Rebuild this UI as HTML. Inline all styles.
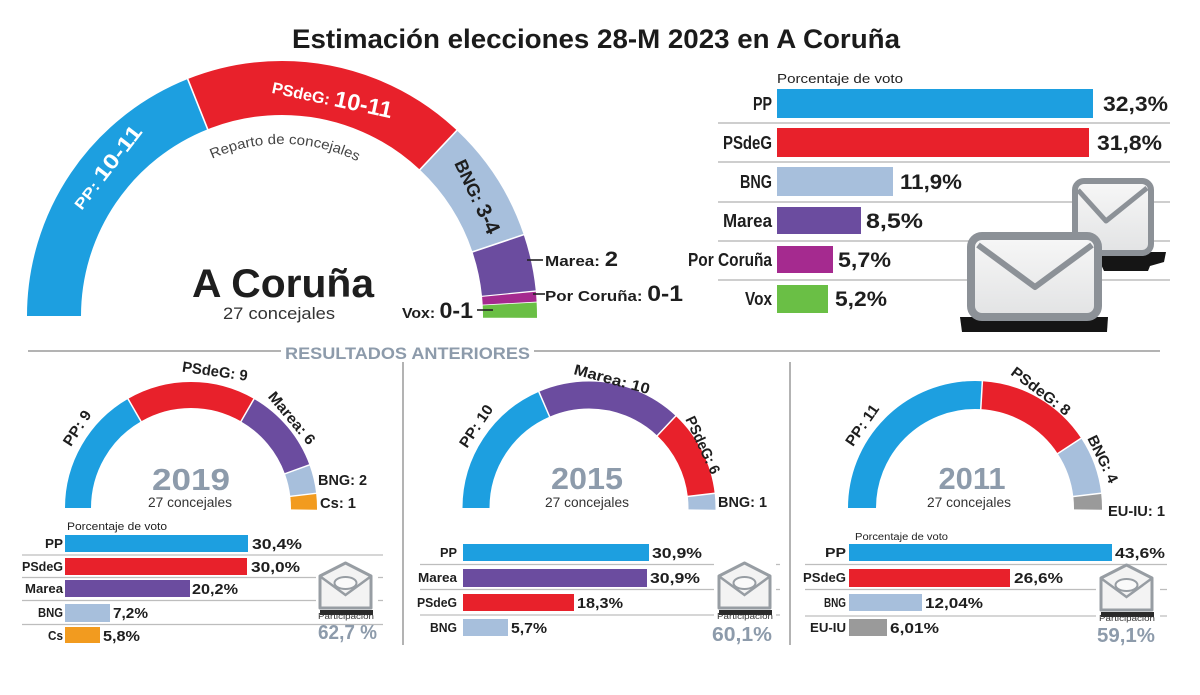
<!DOCTYPE html>
<html><head><meta charset="utf-8">
<style>
html,body{margin:0;padding:0;background:#fff;}
svg{display:block;}
text{font-family:"Liberation Sans",Arial,sans-serif;}
</style></head><body>
<svg width="1200" height="695" viewBox="0 0 1200 695" xmlns="http://www.w3.org/2000/svg">
<defs>
<linearGradient id="env" x1="0" y1="0" x2="0" y2="1">
<stop offset="0" stop-color="#f7f7f7"/><stop offset="1" stop-color="#e2e3e4"/>
</linearGradient>
<path id="rep" d="M150.2,205.4 A172,172 0 0,1 413.8,205.4" fill="none"/>
<g id="penv">
<rect x="2" y="48" width="53" height="5" fill="#2a2a2a"/>
<path d="M2,14 L27.5,1 L53,14 L53,46 L2,46 Z" fill="#f3f3f3" stroke="#979da3" stroke-width="3" stroke-linejoin="round"/>
<path d="M3,15 L27.5,33 L52,15" fill="none" stroke="#979da3" stroke-width="2.5"/>
<ellipse cx="27.5" cy="21" rx="11" ry="6" fill="#fafafa" stroke="#979da3" stroke-width="2"/>
<text x="28" y="57" text-anchor="middle" font-size="8" fill="#333" textLength="56" lengthAdjust="spacingAndGlyphs">Participación</text>
</g>
</defs>
<rect width="1200" height="695" fill="#fff"/>

<!-- Title -->
<text x="596" y="48" text-anchor="middle" font-size="27" font-weight="bold" fill="#1b1b1b" textLength="608" lengthAdjust="spacingAndGlyphs">Estimación elecciones 28-M 2023 en A Coruña</text>

<!-- Top arc -->
<g fill="none" stroke-width="54" transform="rotate(180 282 316)">
<circle cx="282" cy="316" r="228" stroke="#1d9fe0" stroke-dasharray="271.8 3000"/>
<circle cx="282" cy="316" r="228" stroke="#e8212b" stroke-dasharray="258.7 3000" stroke-dashoffset="-271.8"/>
<circle cx="282" cy="316" r="228" stroke="#a7bfdc" stroke-dasharray="111.8 3000" stroke-dashoffset="-530.5"/>
<circle cx="282" cy="316" r="228" stroke="#6b4c9f" stroke-dasharray="50.9 3000" stroke-dashoffset="-642.3"/>
<circle cx="282" cy="316" r="228" stroke="#a52a8f" stroke-dasharray="8.8 3000" stroke-dashoffset="-694.4"/>
<circle cx="282" cy="316" r="228" stroke="#6abf45" stroke-dasharray="14 3000" stroke-dashoffset="-704.0"/>
</g>
<g stroke="#fff" stroke-width="1.6">
<line x1="83" y1="316" x2="25" y2="316" transform="rotate(68.3 282 316)"/>
<line x1="83" y1="316" x2="25" y2="316" transform="rotate(133.3 282 316)"/>
<line x1="83" y1="316" x2="25" y2="316" transform="rotate(161.4 282 316)"/>
</g>
<text font-size="14" fill="#444"><textPath href="#rep" startOffset="51%" text-anchor="middle" textLength="150" lengthAdjust="spacingAndGlyphs">Reparto de concejales</textPath></text>
<text x="108" y="168" dy="0.35em" transform="rotate(-52 108 168)" text-anchor="middle" fill="#fff" font-weight="bold" textLength="100" lengthAdjust="spacingAndGlyphs"><tspan font-size="15">PP: </tspan><tspan font-size="21">10-11</tspan></text>
<text x="332" y="100" dy="0.35em" transform="rotate(12 332 100)" text-anchor="middle" fill="#fff" font-weight="bold" textLength="122" lengthAdjust="spacingAndGlyphs"><tspan font-size="16">PSdeG: </tspan><tspan font-size="23">10-11</tspan></text>
<text x="476" y="197" dy="0.35em" transform="rotate(65 476 197)" text-anchor="middle" fill="#1e1e1e" font-weight="bold" textLength="80" lengthAdjust="spacingAndGlyphs"><tspan font-size="18">BNG: </tspan><tspan font-size="21">3-4</tspan></text>

<g stroke="#222" stroke-width="1.6">
<line x1="527" y1="260" x2="543" y2="260"/>
<line x1="533" y1="294" x2="545" y2="294"/>
<line x1="477" y1="310" x2="493" y2="310"/>
</g>
<text x="545" y="266" fill="#1e1e1e" font-weight="bold" textLength="73" lengthAdjust="spacingAndGlyphs"><tspan font-size="15">Marea: </tspan><tspan font-size="21">2</tspan></text>
<text x="545" y="301" fill="#1e1e1e" font-weight="bold" textLength="138" lengthAdjust="spacingAndGlyphs"><tspan font-size="15">Por Coruña: </tspan><tspan font-size="22">0-1</tspan></text>
<text x="402" y="318" fill="#1e1e1e" font-weight="bold" textLength="71" lengthAdjust="spacingAndGlyphs"><tspan font-size="15">Vox: </tspan><tspan font-size="22">0-1</tspan></text>

<text x="283" y="297" text-anchor="middle" font-size="40" font-weight="bold" fill="#1e1e1e" textLength="182" lengthAdjust="spacingAndGlyphs">A Coruña</text>
<text x="279" y="319" text-anchor="middle" font-size="17" fill="#333" textLength="112" lengthAdjust="spacingAndGlyphs">27 concejales</text>

<!-- Top right bars -->
<g stroke="#bdbdbd" stroke-width="1.5">
<line x1="718" y1="123" x2="1170" y2="123"/>
<line x1="718" y1="162" x2="1170" y2="162"/>
<line x1="718" y1="202" x2="1170" y2="202"/>
<line x1="718" y1="241" x2="1170" y2="241"/>
<line x1="718" y1="280" x2="1170" y2="280"/>
</g>
<text x="777" y="83" font-size="13" fill="#222" textLength="126" lengthAdjust="spacingAndGlyphs">Porcentaje de voto</text>
<rect x="777" y="89" width="316" height="29" fill="#1d9fe0"/>
<rect x="777" y="128" width="312" height="29" fill="#e8212b"/>
<rect x="777" y="167" width="116" height="29" fill="#a7bfdc"/>
<rect x="777" y="207" width="84" height="27" fill="#6b4c9f"/>
<rect x="777" y="246" width="56" height="27" fill="#a52a8f"/>
<rect x="777" y="285" width="51" height="28" fill="#6abf45"/>
<g font-size="18" font-weight="bold" fill="#1e1e1e" text-anchor="end">
<text x="772" y="110" textLength="19" lengthAdjust="spacingAndGlyphs">PP</text>
<text x="772" y="149" textLength="49" lengthAdjust="spacingAndGlyphs">PSdeG</text>
<text x="772" y="188" textLength="32" lengthAdjust="spacingAndGlyphs">BNG</text>
<text x="772" y="227" textLength="49" lengthAdjust="spacingAndGlyphs">Marea</text>
<text x="772" y="266" textLength="84" lengthAdjust="spacingAndGlyphs">Por Coruña</text>
<text x="772" y="305" textLength="27" lengthAdjust="spacingAndGlyphs">Vox</text>
</g>
<g font-size="21" font-weight="bold" fill="#1e1e1e">
<text x="1103" y="111" textLength="65" lengthAdjust="spacingAndGlyphs">32,3%</text>
<text x="1097" y="150" textLength="65" lengthAdjust="spacingAndGlyphs">31,8%</text>
<text x="900" y="189" textLength="62" lengthAdjust="spacingAndGlyphs">11,9%</text>
<text x="866" y="228" textLength="57" lengthAdjust="spacingAndGlyphs">8,5%</text>
<text x="838" y="267" textLength="53" lengthAdjust="spacingAndGlyphs">5,7%</text>
<text x="835" y="306" textLength="52" lengthAdjust="spacingAndGlyphs">5,2%</text>
</g>

<!-- Envelopes -->
<path d="M1096,252 L1166,252 L1164,262 L1150,266 L1148,271 L1104,271 L1100,262 Z" fill="#151515"/>
<rect x="1075" y="181" width="76" height="72" rx="9" fill="url(#env)" stroke="#8c9197" stroke-width="6"/>
<path d="M1078,190 L1106,221 L1147,188" fill="none" stroke="#8c9197" stroke-width="5" stroke-linejoin="round"/>
<path d="M960,317 L1108,317 L1107,332 L962,332 Z" fill="#151515"/>
<rect x="971" y="236" width="127" height="81" rx="11" fill="url(#env)" stroke="#8c9197" stroke-width="8"/>
<path d="M978,245 L1035,287 L1092,245" fill="none" stroke="#8c9197" stroke-width="6" stroke-linejoin="round"/>

<!-- Divider -->
<g stroke="#9a9a9a" stroke-width="1.5">
<line x1="28" y1="351" x2="281" y2="351"/>
<line x1="534" y1="351" x2="1160" y2="351"/>
<line x1="403" y1="362" x2="403" y2="645"/>
<line x1="790" y1="362" x2="790" y2="645"/>
</g>
<text x="285" y="359" font-size="17" font-weight="bold" fill="#8d9bab" textLength="245" lengthAdjust="spacingAndGlyphs">RESULTADOS ANTERIORES</text>

<!-- 2019 arc -->
<g fill="none" stroke-width="26" transform="rotate(180 191 508)">
<circle cx="191" cy="508" r="113" stroke="#1d9fe0" stroke-dasharray="118.3 3000"/>
<circle cx="191" cy="508" r="113" stroke="#e8212b" stroke-dasharray="118.3 3000" stroke-dashoffset="-118.3"/>
<circle cx="191" cy="508" r="113" stroke="#6b4c9f" stroke-dasharray="78.9 3000" stroke-dashoffset="-236.7"/>
<circle cx="191" cy="508" r="113" stroke="#a7bfdc" stroke-dasharray="26.3 3000" stroke-dashoffset="-315.6"/>
<circle cx="191" cy="508" r="113" stroke="#f29b1f" stroke-dasharray="14.5 3000" stroke-dashoffset="-341.9"/>
</g>
<g stroke="#fff" stroke-width="1.5">
<line x1="93" y1="508" x2="63" y2="508" transform="rotate(60 191 508)"/>
<line x1="93" y1="508" x2="63" y2="508" transform="rotate(120 191 508)"/>
<line x1="93" y1="508" x2="63" y2="508" transform="rotate(160 191 508)"/>
<line x1="93" y1="508" x2="63" y2="508" transform="rotate(173.3 191 508)"/>
</g>
<g font-size="15" font-weight="bold" fill="#1e1e1e" text-anchor="middle">
<text x="77" y="428" dy="0.35em" transform="rotate(-57 77 428)" textLength="39" lengthAdjust="spacingAndGlyphs">PP: 9</text>
<text x="215" y="371" dy="0.35em" transform="rotate(8 215 371)" textLength="66" lengthAdjust="spacingAndGlyphs">PSdeG: 9</text>
<text x="292" y="418" dy="0.35em" transform="rotate(50 292 418)" textLength="64" lengthAdjust="spacingAndGlyphs">Marea: 6</text>
</g>
<g font-size="15" font-weight="bold" fill="#1e1e1e">
<text x="318" y="485" textLength="49" lengthAdjust="spacingAndGlyphs">BNG: 2</text>
<text x="320" y="508" textLength="36" lengthAdjust="spacingAndGlyphs">Cs: 1</text>
</g>
<text x="191" y="490" text-anchor="middle" font-size="31" font-weight="bold" fill="#8d9bab" textLength="78" lengthAdjust="spacingAndGlyphs">2019</text>
<text x="190" y="507" text-anchor="middle" font-size="14" fill="#333" textLength="84" lengthAdjust="spacingAndGlyphs">27 concejales</text>

<!-- 2019 bars -->
<g stroke="#bdbdbd" stroke-width="1.3">
<line x1="22" y1="555" x2="383" y2="555"/>
<line x1="22" y1="577.5" x2="383" y2="577.5"/>
<line x1="22" y1="600.5" x2="383" y2="600.5"/>
<line x1="22" y1="624.5" x2="383" y2="624.5"/>
</g>
<text x="67" y="530" font-size="11" fill="#222" textLength="100" lengthAdjust="spacingAndGlyphs">Porcentaje de voto</text>
<rect x="65" y="535" width="183" height="17" fill="#1d9fe0"/>
<rect x="65" y="558" width="182" height="17" fill="#e8212b"/>
<rect x="65" y="580" width="125" height="17" fill="#6b4c9f"/>
<rect x="65" y="604" width="45" height="18" fill="#a7bfdc"/>
<rect x="65" y="627" width="35" height="16" fill="#f29b1f"/>
<g font-size="13" font-weight="bold" fill="#1e1e1e" text-anchor="end">
<text x="63" y="548" textLength="18" lengthAdjust="spacingAndGlyphs">PP</text>
<text x="63" y="571" textLength="41" lengthAdjust="spacingAndGlyphs">PSdeG</text>
<text x="63" y="593" textLength="38" lengthAdjust="spacingAndGlyphs">Marea</text>
<text x="63" y="617" textLength="25" lengthAdjust="spacingAndGlyphs">BNG</text>
<text x="63" y="640" textLength="15" lengthAdjust="spacingAndGlyphs">Cs</text>
</g>
<g font-size="15" font-weight="bold" fill="#1e1e1e">
<text x="252" y="549" textLength="50" lengthAdjust="spacingAndGlyphs">30,4%</text>
<text x="251" y="572" textLength="49" lengthAdjust="spacingAndGlyphs">30,0%</text>
<text x="192" y="594" textLength="46" lengthAdjust="spacingAndGlyphs">20,2%</text>
<text x="113" y="618" textLength="35" lengthAdjust="spacingAndGlyphs">7,2%</text>
<text x="103" y="641" textLength="37" lengthAdjust="spacingAndGlyphs">5,8%</text>
</g>
<rect x="316" y="560" width="62" height="60" fill="#fff"/>
<use href="#penv" transform="translate(318,562)"/>
<text x="318" y="639" font-size="20" font-weight="bold" fill="#8d9bab" textLength="59" lengthAdjust="spacingAndGlyphs">62,7 %</text>

<!-- 2015 arc -->
<g fill="none" stroke-width="27" transform="rotate(180 589 508)">
<circle cx="589" cy="508" r="113" stroke="#1d9fe0" stroke-dasharray="131.5 3000"/>
<circle cx="589" cy="508" r="113" stroke="#6b4c9f" stroke-dasharray="131.5 3000" stroke-dashoffset="-131.5"/>
<circle cx="589" cy="508" r="113" stroke="#e8212b" stroke-dasharray="78.9 3000" stroke-dashoffset="-263"/>
<circle cx="589" cy="508" r="113" stroke="#a7bfdc" stroke-dasharray="14.5 3000" stroke-dashoffset="-341.9"/>
</g>
<g stroke="#fff" stroke-width="1.5">
<line x1="491" y1="508" x2="460" y2="508" transform="rotate(66.67 589 508)"/>
<line x1="491" y1="508" x2="460" y2="508" transform="rotate(133.33 589 508)"/>
<line x1="491" y1="508" x2="460" y2="508" transform="rotate(173.33 589 508)"/>
</g>
<g font-size="15" font-weight="bold" fill="#1e1e1e" text-anchor="middle">
<text x="476" y="426" dy="0.35em" transform="rotate(-56 476 426)" textLength="48" lengthAdjust="spacingAndGlyphs">PP: 10</text>
<text x="612" y="379" dy="0.35em" transform="rotate(15 612 379)" textLength="78" lengthAdjust="spacingAndGlyphs">Marea: 10</text>
<text x="703" y="445" dy="0.35em" transform="rotate(65 703 445)" textLength="62" lengthAdjust="spacingAndGlyphs">PSdeG: 6</text>
</g>
<text x="718" y="507" font-size="15" font-weight="bold" fill="#1e1e1e" textLength="49" lengthAdjust="spacingAndGlyphs">BNG: 1</text>
<text x="587" y="489" text-anchor="middle" font-size="31" font-weight="bold" fill="#8d9bab" textLength="72" lengthAdjust="spacingAndGlyphs">2015</text>
<text x="587" y="507" text-anchor="middle" font-size="14" fill="#333" textLength="84" lengthAdjust="spacingAndGlyphs">27 concejales</text>

<!-- 2015 bars -->
<g stroke="#bdbdbd" stroke-width="1.3">
<line x1="420" y1="564.5" x2="780" y2="564.5"/>
<line x1="420" y1="589.5" x2="780" y2="589.5"/>
<line x1="420" y1="615" x2="780" y2="615"/>
</g>
<rect x="463" y="544" width="186" height="17" fill="#1d9fe0"/>
<rect x="463" y="569" width="184" height="18" fill="#6b4c9f"/>
<rect x="463" y="594" width="111" height="17" fill="#e8212b"/>
<rect x="463" y="619" width="45" height="17" fill="#a7bfdc"/>
<g font-size="13" font-weight="bold" fill="#1e1e1e" text-anchor="end">
<text x="457" y="557" textLength="17" lengthAdjust="spacingAndGlyphs">PP</text>
<text x="457" y="582" textLength="39" lengthAdjust="spacingAndGlyphs">Marea</text>
<text x="457" y="607" textLength="40" lengthAdjust="spacingAndGlyphs">PSdeG</text>
<text x="457" y="632" textLength="27" lengthAdjust="spacingAndGlyphs">BNG</text>
</g>
<g font-size="15" font-weight="bold" fill="#1e1e1e">
<text x="652" y="558" textLength="50" lengthAdjust="spacingAndGlyphs">30,9%</text>
<text x="650" y="583" textLength="50" lengthAdjust="spacingAndGlyphs">30,9%</text>
<text x="577" y="608" textLength="46" lengthAdjust="spacingAndGlyphs">18,3%</text>
<text x="511" y="633" textLength="36" lengthAdjust="spacingAndGlyphs">5,7%</text>
</g>
<rect x="714" y="560" width="62" height="60" fill="#fff"/>
<use href="#penv" transform="translate(717,562)"/>
<text x="712" y="641" font-size="20" font-weight="bold" fill="#8d9bab" textLength="60" lengthAdjust="spacingAndGlyphs">60,1%</text>

<!-- 2011 arc -->
<g fill="none" stroke-width="28" transform="rotate(180 975 508)">
<circle cx="975" cy="508" r="113" stroke="#1d9fe0" stroke-dasharray="184.1 3000"/>
<circle cx="975" cy="508" r="113" stroke="#e8212b" stroke-dasharray="105.2 3000" stroke-dashoffset="-184.1"/>
<circle cx="975" cy="508" r="113" stroke="#a7bfdc" stroke-dasharray="52.6 3000" stroke-dashoffset="-289.3"/>
<circle cx="975" cy="508" r="113" stroke="#9a9a9a" stroke-dasharray="14.5 3000" stroke-dashoffset="-341.9"/>
</g>
<g stroke="#fff" stroke-width="1.5">
<line x1="877" y1="508" x2="845" y2="508" transform="rotate(93.33 975 508)"/>
<line x1="877" y1="508" x2="845" y2="508" transform="rotate(146.67 975 508)"/>
<line x1="877" y1="508" x2="845" y2="508" transform="rotate(173.33 975 508)"/>
</g>
<g font-size="15" font-weight="bold" fill="#1e1e1e" text-anchor="middle">
<text x="862" y="425" dy="0.35em" transform="rotate(-55 862 425)" textLength="47" lengthAdjust="spacingAndGlyphs">PP: 11</text>
<text x="1041" y="391" dy="0.35em" transform="rotate(37 1041 391)" textLength="70" lengthAdjust="spacingAndGlyphs">PSdeG: 8</text>
<text x="1103" y="459" dy="0.35em" transform="rotate(64 1103 459)" textLength="51" lengthAdjust="spacingAndGlyphs">BNG: 4</text>
</g>
<text x="1108" y="516" font-size="15" font-weight="bold" fill="#1e1e1e" textLength="57" lengthAdjust="spacingAndGlyphs">EU-IU: 1</text>
<text x="972" y="489" text-anchor="middle" font-size="31" font-weight="bold" fill="#8d9bab" textLength="67" lengthAdjust="spacingAndGlyphs">2011</text>
<text x="969" y="507" text-anchor="middle" font-size="14" fill="#333" textLength="84" lengthAdjust="spacingAndGlyphs">27 concejales</text>

<!-- 2011 bars -->
<g stroke="#bdbdbd" stroke-width="1.3">
<line x1="805" y1="564.5" x2="1167" y2="564.5"/>
<line x1="805" y1="589.5" x2="1167" y2="589.5"/>
<line x1="805" y1="616" x2="1167" y2="616"/>
</g>
<text x="855" y="540" font-size="10" fill="#222" textLength="93" lengthAdjust="spacingAndGlyphs">Porcentaje de voto</text>
<rect x="849" y="544" width="263" height="17" fill="#1d9fe0"/>
<rect x="849" y="569" width="161" height="18" fill="#e8212b"/>
<rect x="849" y="594" width="73" height="17" fill="#a7bfdc"/>
<rect x="849" y="619" width="38" height="17" fill="#9a9a9a"/>
<g font-size="13" font-weight="bold" fill="#1e1e1e" text-anchor="end">
<text x="846" y="557" textLength="21" lengthAdjust="spacingAndGlyphs">PP</text>
<text x="846" y="582" textLength="43" lengthAdjust="spacingAndGlyphs">PSdeG</text>
<text x="846" y="607" textLength="22" lengthAdjust="spacingAndGlyphs">BNG</text>
<text x="846" y="632" textLength="36" lengthAdjust="spacingAndGlyphs">EU-IU</text>
</g>
<g font-size="15" font-weight="bold" fill="#1e1e1e">
<text x="1115" y="558" textLength="50" lengthAdjust="spacingAndGlyphs">43,6%</text>
<text x="1014" y="583" textLength="49" lengthAdjust="spacingAndGlyphs">26,6%</text>
<text x="925" y="608" textLength="58" lengthAdjust="spacingAndGlyphs">12,04%</text>
<text x="890" y="633" textLength="49" lengthAdjust="spacingAndGlyphs">6,01%</text>
</g>
<rect x="1096" y="566" width="64" height="56" fill="#fff"/>
<use href="#penv" transform="translate(1099,564)"/>
<text x="1097" y="642" font-size="20" font-weight="bold" fill="#8d9bab" textLength="58" lengthAdjust="spacingAndGlyphs">59,1%</text>
</svg>
</body></html>
